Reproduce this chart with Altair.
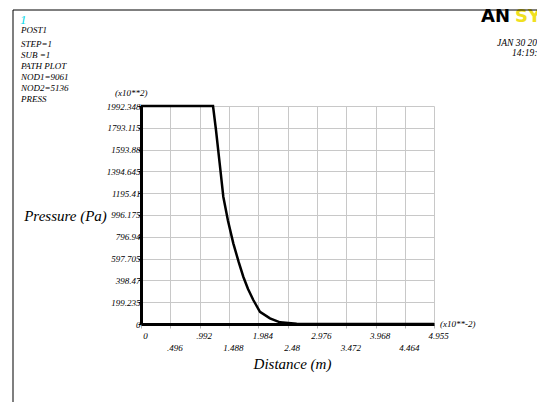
import altair as alt
import pandas as pd

# ---- data (x in 1e-2 m, pressure in 1e2 Pa) ----
dist = [0.0, 1.218, 1.268, 1.330, 1.392, 1.47, 1.561, 1.65, 1.730, 1.81, 1.899, 2.012, 2.181, 2.351, 2.633, 4.955]
press = [1992.348, 1992.348, 1773, 1470, 1163, 945, 737, 570, 432, 320, 219, 112, 52, 15, 3, 0]

x_ticks = [0, 0.496, 0.992, 1.488, 1.984, 2.48, 2.976, 3.472, 3.968, 4.464, 4.955]
y_ticks = [0, 199.235, 398.47, 597.705, 796.94, 996.175, 1195.41, 1394.645, 1593.88, 1793.115, 1992.348]

info_head = "POST1"
info_lines = ["STEP=1", "SUB =1", "PATH PLOT", "NOD1=9061", "NOD2=5136", "PRESS"]
date_text = "JAN 30 2012"
time_text = "14:19:35"

W, H = 293, 218
PL, PT = 133, 98
SERIF = "Liberation Serif"

df = pd.DataFrame({"x": dist, "y": press})

vals = ",".join(str(v) for v in x_ticks)
fmt = "(datum.value > 0 && datum.value < 1 ? slice(format(datum.value, '.3~f'), 1) : format(datum.value, '.4~g'))"
x_label_expr = f"indexof([{vals}], datum.value) % 2 == 1 ? ['', {fmt}] : {fmt}"

line = alt.Chart(df).mark_line(color="black", strokeWidth=2.5, clip=False).encode(
    x=alt.X(
        "x:Q",
        scale=alt.Scale(domain=[0, 4.955], nice=False, zero=False),
        axis=alt.Axis(
            values=x_ticks,
            labelExpr=x_label_expr,
            labelFont=SERIF, labelFontStyle="italic", labelFontSize=9, labelColor="black",
            labelPadding=3, labelLineHeight=12, labelOffset=4,
            labelFlush=False, labelOverlap=False,
            tickSize=4, tickColor="#b4b4b4",
            domainColor="black", domainWidth=3,
            gridColor="#c8c8c8", gridWidth=1, gridOpacity=1,
            title="Distance (m)", titleFont=SERIF, titleFontSize=15, titleFontStyle="italic",
            titleFontWeight="normal", titleColor="black", titleX=151, titleY=39,
            titleAlign="center", titleBaseline="middle",
        ),
    ),
    y=alt.Y(
        "y:Q",
        scale=alt.Scale(domain=[0, 1992.348], nice=False, zero=False),
        axis=alt.Axis(
            values=y_ticks,
            format=".7~g",
            labelFont=SERIF, labelFontStyle="italic", labelFontSize=9, labelColor="black",
            labelPadding=-2, labelOverlap=False, labelFlush=False,
            tickSize=3, tickColor="black",
            domainColor="black", domainWidth=3,
            gridColor="#c8c8c8", gridWidth=1, gridOpacity=1,
            title="Pressure (Pa)", titleFont=SERIF, titleFontSize=15, titleFontStyle="italic",
            titleFontWeight="normal", titleColor="black", titleAngle=0,
            titleX=-76, titleY=109, titleAlign="center", titleBaseline="middle",
        ),
    ),
)

one = alt.Data(values=[{"a": 1}])


def txt(text, x, y, size=9, color="black", align="left", style="italic", weight="normal",
        font=SERIF, lh=11):
    return alt.Chart(one).mark_text(
        align=align, baseline="middle", font=font, fontSize=size, fontStyle=style,
        fontWeight=weight, color=color, lineHeight=lh,
    ).encode(x=alt.value(x), y=alt.value(y), text=alt.value(text))


ox, oy = 141, 106  # plot origin in page pixels
layers = [
    line,
    txt("1", 20 - ox, 20 - oy, size=13, color="#00d8e8"),
    txt(info_head, 21 - ox, 30 - oy, size=9),
    txt(info_lines, 21 - ox, 44 - oy, size=9, lh=11),
    txt("(x10**2)", 115 - ox, 93 - oy, size=9),
    txt("(x10**-2)", 440 - ox, 324 - oy, size=9),
    txt(date_text, 497 - ox, 43 - oy, size=9.5),
    txt(time_text, 512 - ox, 53 - oy, size=9.5),
    txt("AN", 481 - ox, 17 - oy, size=18, style="normal", weight="bold", font="DejaVu Sans"),
    txt("SYS", 515 - ox, 17 - oy, size=18, style="normal", weight="bold", font="DejaVu Sans",
        color="#f0e020"),
    alt.Chart(one).mark_rule(color="#555555", strokeWidth=1.5).encode(
        x=alt.value(13 - ox), y=alt.value(10 - oy), y2=alt.value(410 - oy)),
    alt.Chart(one).mark_rule(color="black", strokeWidth=1).encode(
        x=alt.value(13 - ox), x2=alt.value(545 - ox), y=alt.value(10 - oy)),
]

chart = alt.layer(*layers).properties(
    width=W, height=H,
    autosize=alt.AutoSizeParams(type="none"),
    padding={"left": PL, "top": PT, "right": 529 - PL - W, "bottom": 394 - PT - H},
).configure_view(stroke=None)

chart.save("out.html", embed_options={"renderer": "svg", "actions": False})
